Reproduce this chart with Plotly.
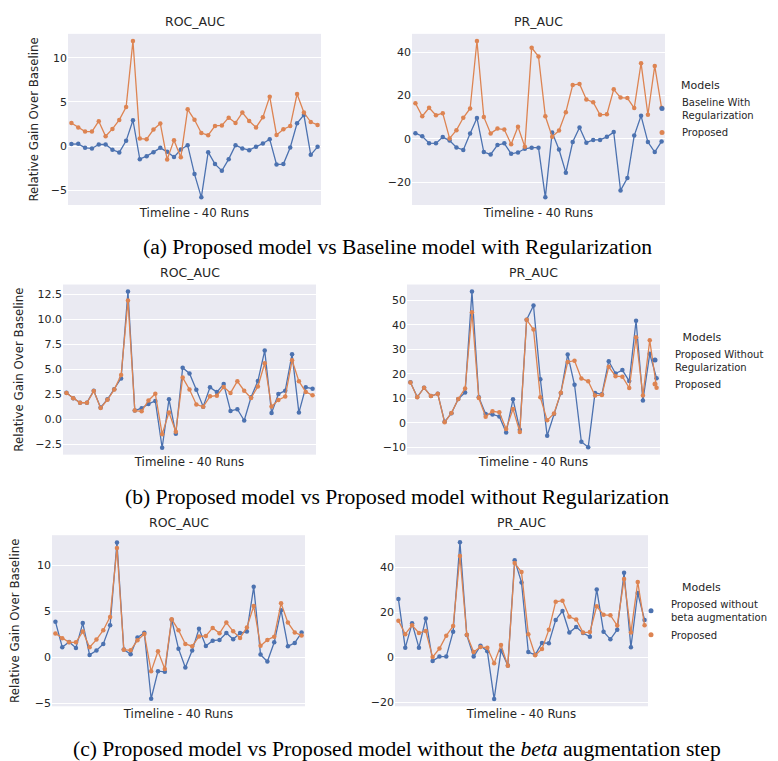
import plotly.graph_objects as go

# ---------------- data ----------------
runs = list(range(1, 38))

proposed_roc = [2.62, 2.1, 1.65, 1.65, 2.82, 1.12, 1.95, 2.97, 4.42, 11.9,
                0.86, 0.79, 1.88, 2.55, -1.5, 0.68, -1.25, 4.17, 2.98, 1.48,
                1.24, 2.29, 2.35, 3.22, 2.63, 3.8, 2.85, 2.12, 3.28, 5.6,
                1.27, 1.92, 2.27, 5.9, 3.8, 2.73, 2.4]
proposed_pr = [16.4, 10.4, 14.3, 10.9, 11.8, 0.2, 4.0, 9.7, 14.0, 45.1,
               10.1, 2.5, 4.7, 4.3, -2.5, 5.6, -3.7, 42.0, 38.0, 10.4,
               1.0, 3.8, 12.3, 24.8, 25.3, 18.1, 16.9, 11.1, 11.3, 22.8,
               19.0, 18.8, 14.2, 34.9, 11.1, 33.6, 14.3]

baseline_reg_roc = [0.23, 0.26, -0.19, -0.26, 0.19, 0.19, -0.41, -0.71, 0.6, 2.93,
                    -1.47, -1.13, -0.68, -0.19, -0.64, -1.24, -0.38, 0.11, -3.16, -5.79,
                    -0.68, -2.03, -2.78, -1.47, 0.11, -0.26, -0.45, -0.08, 0.3, 0.79,
                    -2.07, -2.03, -0.15, 2.59, 3.53, -0.98, -0.08]
baseline_reg_pr = [2.6, 1.2, -2.0, -2.1, 0.8, -0.8, -4.0, -5.1, 2.45, 9.65,
                   -6.1, -7.2, -2.9, -2.1, -6.9, -6.3, -4.6, -4.1, -4.1, -27.0,
                   2.9, -4.9, -15.6, -1.5, 5.2, -1.8, -0.5, -0.5, 0.9, 3.1,
                   -23.8, -18.1, 1.5, 10.6, -1.5, -6.1, -1.2]

noreg_roc = [2.66, 2.1, 1.66, 1.66, 2.86, 1.16, 2.0, 3.0, 4.09, 12.8,
             0.86, 1.1, 1.53, 1.83, -2.86, 1.99, -1.46, 5.15, 4.58, 2.96,
             1.26, 3.19, 2.72, 3.52, 0.83, 1.0, -0.13, 2.19, 3.82, 6.88,
             0.63, 2.52, 2.86, 6.51, 0.66, 3.19, 3.06]
noreg_pr = [16.5, 10.5, 14.3, 10.9, 11.8, 0.4, 3.9, 9.7, 12.4, 53.5,
            10.4, 3.6, 3.4, 2.6, -3.9, 9.6, -2.8, 42.0, 47.8, 17.8,
            -5.3, 3.6, 12.2, 27.8, 15.5, -7.7, -10.0, 12.2, 11.6, 25.1,
            20.1, 21.5, 17.0, 41.6, 9.1, 28.1, 18.2]

nobeta_roc = [3.9, 1.12, 1.7, 1.05, 3.75, 0.29, 0.76, 1.48, 3.5, 12.5,
              0.87, 0.36, 2.17, 2.7, -4.48, -1.48, -1.55, 4.12, 0.97, -1.08,
              0.76, 3.14, 1.26, 1.84, 1.91, 2.67, 1.99, 2.67, 2.82, 7.69,
              0.32, -0.43, 1.66, 5.13, 1.23, 1.59, 2.71]
nobeta_pr = [26.0, 4.3, 15.2, 4.4, 17.3, -1.5, 0.4, 0.4, 11.5, 51.3,
             10.0, 0.4, 5.2, 2.8, -18.5, 3.1, -3.5, 43.3, 33.4, 2.4,
             1.2, 6.5, 6.4, 16.7, 20.7, 11.1, 13.6, 10.9, 9.2, 30.3,
             11.5, 8.1, 12.4, 37.7, 4.6, 28.7, 16.7]

metric_titles = ["ROC_AUC", "PR_AUC"]
row_names = ["Baseline With<br>Regularization",
             "Proposed Without<br>Regularization",
             "Proposed without<br>beta augmentation"]
proposed_name = "Proposed"
captions = ["(a) Proposed model vs Baseline model with Regularization",
            "(b) Proposed model vs Proposed model without Regularization",
            "(c) Proposed model vs Proposed model without the <i>beta</i> augmentation step"]
x_title = "Timeline - 40 Runs"
y_title = "Relative Gain Over Baseline"

comparison = [(baseline_reg_roc, baseline_reg_pr),
              (noreg_roc, noreg_pr),
              (nobeta_roc, nobeta_pr)]

# ---------------- style / layout ----------------
W, H = 778, 761
BLUE = "#4C72B0"
ORANGE = "#DD8452"
BG = "#EAEAF2"
TXT = "#262626"
FONT = "DejaVu Sans"

# pixel boxes (left, right, top, bottom) for the 6 panels
boxes = [
    [(60, 313, 26, 198), (404, 657, 26, 198)],
    [(55, 308, 278, 449), (399, 652, 278, 449)],
    [(44, 297, 530, 702), (387, 640, 530, 702)],
]
yranges = [
    [(-6.65, 12.7), (-30.5, 48.4)],
    [(-3.55, 13.49), (-12.97, 56.35)],
    [(-5.3, 13.3), (-21.7, 54.4)],
]
ytick_sets = [
    [[-5, 0, 5, 10], [-20, 0, 20, 40]],
    [[-2.5, 0, 2.5, 5, 7.5, 10, 12.5], [-10, 0, 10, 20, 30, 40, 50]],
    [[-5, 0, 5, 10], [-20, 0, 20, 40]],
]
ytick_fmt = [["", ""], [".1f", ""], ["", ""]]
ytitle_standoff = [9, 9, 13]
legend_pos = [(634, 67), (627, 320), (623, 572)]   # px (left, top)
caption_y = [240, 492, 745]

def fx(p):
    return p / W

def fy(p):
    return 1 - p / H

fig = go.Figure()
layout = dict(
    width=W, height=H,
    margin=dict(l=0, r=0, t=0, b=0),
    paper_bgcolor="white", plot_bgcolor=BG,
    font=dict(family=FONT, color=TXT, size=10),
    showlegend=True,
)
annotations = []

k = 0
for r in range(3):
    for c in range(2):
        k += 1
        xa = "x" if k == 1 else f"x{k}"
        ya = "y" if k == 1 else f"y{k}"
        xkey = "xaxis" if k == 1 else f"xaxis{k}"
        ykey = "yaxis" if k == 1 else f"yaxis{k}"
        L, R, T, B = boxes[r][c]
        lg = "legend" if r == 0 else f"legend{r + 1}"
        other = comparison[r][c]
        prop = proposed_roc if c == 0 else proposed_pr
        for vals, col in ((other, BLUE), (prop, ORANGE)):
            fig.add_trace(go.Scatter(
                x=runs, y=vals, xaxis=xa, yaxis=ya, mode="lines+markers",
                line=dict(color=col, width=1.3),
                marker=dict(color=col, size=4.5),
                showlegend=False, hoverinfo="skip"))
        if c == 1:
            for name, col in ((row_names[r], BLUE), (proposed_name, ORANGE)):
                fig.add_trace(go.Scatter(
                    x=[None], y=[None], xaxis=xa, yaxis=ya, mode="markers",
                    marker=dict(color=col, size=5), name=name, legend=lg))
        layout[xkey] = dict(
            domain=[fx(L), fx(R)], anchor=ya, range=[0.5, 37.5],
            showgrid=False, zeroline=False, showticklabels=False, ticks="",
            showline=False,
            title=dict(text=x_title, font=dict(size=11.8, color=TXT), standoff=3),
        )
        yd = dict(
            domain=[fy(B), fy(T)], anchor=xa, range=list(yranges[r][c]),
            tickvals=ytick_sets[r][c], tickformat=ytick_fmt[r][c],
            showgrid=True, gridcolor="white", gridwidth=1.1,
            zeroline=False, showline=False, ticks="",
            tickfont=dict(size=11, color=TXT),
        )
        if c == 0:
            yd["title"] = dict(text=y_title, font=dict(size=11.8, color=TXT),
                               standoff=ytitle_standoff[r])
        layout[ykey] = yd
        annotations.append(dict(
            text=metric_titles[c], xref="paper", yref="paper",
            x=fx((L + R) / 2), y=fy(T - 3), xanchor="center", yanchor="bottom",
            showarrow=False, font=dict(size=12.5, color=TXT)))

for r in range(3):
    lx, ly = legend_pos[r]
    key = "legend" if r == 0 else f"legend{r + 1}"
    layout[key] = dict(
        x=fx(lx), y=fy(ly), xanchor="left", yanchor="top",
        bgcolor="rgba(0,0,0,0)", borderwidth=0,
        title=dict(text="Models", side="top center", font=dict(size=11, color=TXT)),
        font=dict(size=10, color=TXT), tracegroupgap=0, itemwidth=30,
    )
    annotations.append(dict(
        text=captions[r], xref="paper", yref="paper",
        x=fx(389), y=fy(caption_y[r]), xanchor="center", yanchor="middle",
        showarrow=False, font=dict(family="Liberation Serif", size=21.6, color="black")))

layout["annotations"] = annotations
fig.update_layout(**layout)
fig.write_html("out.html")
